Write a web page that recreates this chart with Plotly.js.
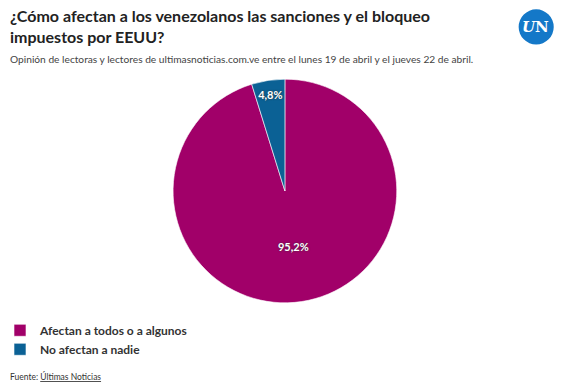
<!DOCTYPE html>
<html><head><meta charset="utf-8">
<script src="https://cdn.plot.ly/plotly-3.0.1.min.js"></script>
<style>html,body{margin:0;padding:0;background:#fff}#c{width:575px;height:387px}</style>
</head><body><div id="c"></div>
<script>
const categories = ['Afectan a todos o a algunos', 'No afectan a nadie'];
const values = [95.2, 4.8];
const colors = ['#a10069', '#0b6195'];

const FONT = 'Lato, "Noto Sans", sans-serif';
const data = [{
  type: 'pie',
  labels: categories,
  values: values,
  sort: false,
  direction: 'clockwise',
  rotation: 0,
  marker: {colors: colors, line: {color: '#ffffff', width: 0.6}},
  texttemplate: '%{percent:.1%}',
  textposition: 'inside',
  insidetextorientation: 'horizontal',
  textfont: {family: FONT, size: 11, color: '#ffffff', weight: 'bold', shadow: '0px 0px 2px #333'},
  hoverinfo: 'label+percent',
  showlegend: true,
  domain: {x: [0.301, 0.690], y: [0.217, 0.796]}
}];

const layout = {
  width: 575, height: 387,
  margin: {l: 0, r: 0, t: 0, b: 0},
  paper_bgcolor: '#ffffff',
  separators: ',.',
  font: {family: FONT, color: '#333333'},
  legend: {
    x: 0, y: 0.184, xanchor: 'left', yanchor: 'top',
    font: {family: FONT, size: 12, color: '#333333', weight: 'bold'},
    itemwidth: 30, tracegroupgap: 0, traceorder: 'normal'
  },
  annotations: [
    {xref: 'paper', yref: 'paper', x: 0.014, y: 0.99, xanchor: 'left', yanchor: 'top', showarrow: false, align: 'left',
     text: '<b>¿Cómo afectan a los venezolanos las sanciones y el bloqueo<br>impuestos por EEUU?</b>',
     font: {family: FONT, size: 16, color: '#222222'}},
    {xref: 'paper', yref: 'paper', x: 0.014, y: 0.868, xanchor: 'left', yanchor: 'top', showarrow: false, align: 'left',
     text: 'Opinión de lectoras y lectores de ultimasnoticias.com.ve entre el lunes 19 de abril y el jueves 22 de abril.',
     font: {family: FONT, size: 10.2, color: '#444444'}},
    {xref: 'paper', yref: 'paper', x: 0.014, y: 0.008, xanchor: 'left', yanchor: 'bottom', showarrow: false, align: 'left',
     text: 'Fuente: <u>Últimas Noticias</u>',
     font: {family: FONT, size: 8.5, color: '#333333'}},
    {xref: 'paper', yref: 'paper', x: 0.932, y: 0.930, xanchor: 'center', yanchor: 'middle', showarrow: false,
     text: '<b><i>U</i>N</b>',
     font: {family: '"DejaVu Serif", "Liberation Serif", serif', size: 15, color: '#ffffff'}}
  ],
  shapes: [
    {type: 'circle', xref: 'paper', yref: 'paper', x0: 0.902, x1: 0.963, y0: 0.885, y1: 0.976,
     fillcolor: '#1478c8', line: {width: 0}}
  ]
};

Plotly.newPlot('c', data, layout, {displayModeBar: false, staticPlot: true});
</script>
</body></html>
